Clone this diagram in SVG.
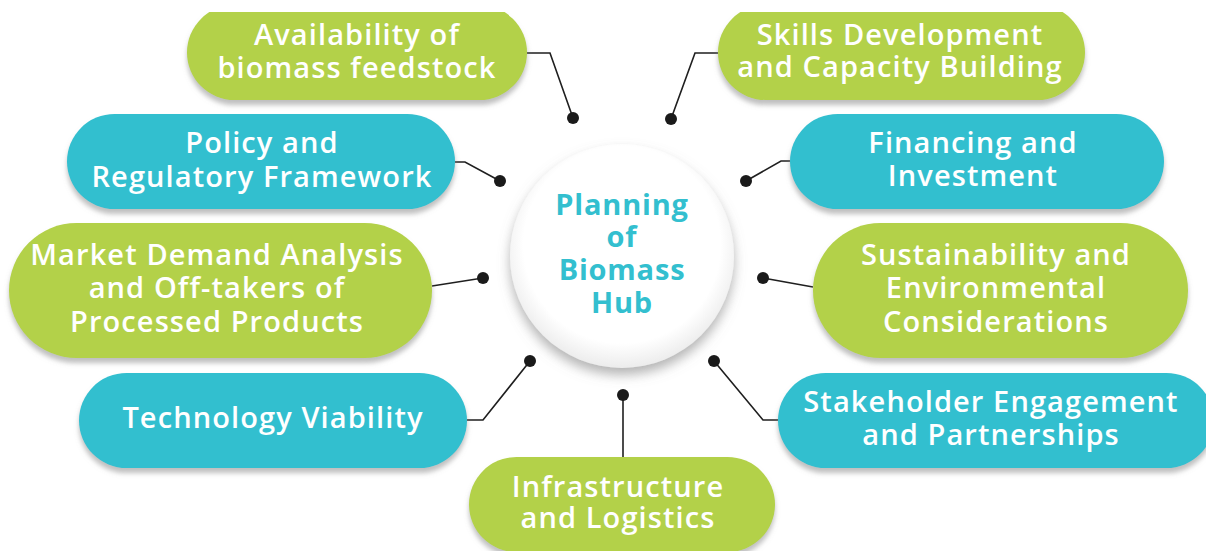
<svg xmlns="http://www.w3.org/2000/svg" width="1206" height="551" viewBox="0 0 1206 551">
  <defs>
    <filter id="sh" x="-10%" y="-20%" width="120%" height="150%">
      <feDropShadow dx="0" dy="5" stdDeviation="2.5" flood-color="#8a8a8a" flood-opacity="0.55"/>
    </filter>
    <filter id="csh" x="-20%" y="-20%" width="140%" height="150%">
      <feDropShadow dx="0" dy="7" stdDeviation="6" flood-color="#777" flood-opacity="0.55"/>
    </filter>
    <radialGradient id="cg" cx="50%" cy="45%" r="55%">
      <stop offset="0.8" stop-color="#ffffff"/>
      <stop offset="1" stop-color="#ececec"/>
    </radialGradient>
    <clipPath id="topclip"><rect x="0" y="12" width="1206" height="539"/></clipPath>
    <style>
      .g { fill: #B3D148; }
      .t { fill: #33BFCF; }
      .lbl { font-family: "Open Sans", "Liberation Sans", sans-serif; font-weight: 600; font-size: 29px; letter-spacing: 1.1px; fill: #ffffff; text-anchor: middle; }
      .hub { font-family: "Open Sans", "Liberation Sans", sans-serif; font-weight: 700; font-size: 29px; letter-spacing: 0.8px; fill: #33BFCF; text-anchor: middle; }
      .ln { fill: none; stroke: #1f1f1f; stroke-width: 1.6; }
      .dot { fill: #1a1a1a; }
    </style>
  </defs>
  <rect width="1206" height="551" fill="#ffffff"/>

  <g id="connectors">
    <polyline class="ln" points="527,53 550,53 573,118"/>
    <polyline class="ln" points="718,53 695,53 671,119"/>
    <polyline class="ln" points="455,162 465,162 500,181"/>
    <polyline class="ln" points="790,161 781,161 746,181"/>
    <polyline class="ln" points="432,286 483,278"/>
    <polyline class="ln" points="813,287 763,278"/>
    <polyline class="ln" points="467,420 483,420 530,361"/>
    <polyline class="ln" points="778,420 763,420 714,361"/>
    <polyline class="ln" points="623,395 623,457"/>
    <circle class="dot" cx="573" cy="118" r="6"/>
    <circle class="dot" cx="671" cy="119" r="6"/>
    <circle class="dot" cx="500" cy="181" r="6"/>
    <circle class="dot" cx="746" cy="181" r="6"/>
    <circle class="dot" cx="483" cy="278" r="6"/>
    <circle class="dot" cx="763" cy="278" r="6"/>
    <circle class="dot" cx="530" cy="361" r="6"/>
    <circle class="dot" cx="714" cy="361" r="6"/>
    <circle class="dot" cx="623" cy="395" r="6"/>
  </g>

  <g id="hub">
    <circle cx="622" cy="256" r="112" fill="url(#cg)" filter="url(#csh)"/>
    <text class="hub" x="622" y="215">Planning</text>
    <text class="hub" x="622" y="247">of</text>
    <text class="hub" x="622" y="280">Biomass</text>
    <text class="hub" x="622" y="313">Hub</text>
  </g>

  <g id="availability" clip-path="url(#topclip)">
    <rect class="g" x="187" y="5" width="340" height="95" rx="47.5" filter="url(#sh)"/>
    <text class="lbl" x="357" y="45">Availability of</text>
    <text class="lbl" x="357" y="78">biomass feedstock</text>
  </g>

  <g id="skills" clip-path="url(#topclip)">
    <rect class="g" x="718" y="5" width="367" height="95" rx="47.5" filter="url(#sh)"/>
    <text class="lbl" x="900" y="45">Skills Development</text>
    <text class="lbl" x="900" y="77">and Capacity Building</text>
  </g>

  <g id="policy">
    <rect class="t" x="67" y="114" width="388" height="95" rx="47.5" filter="url(#sh)"/>
    <text class="lbl" x="262" y="153">Policy and</text>
    <text class="lbl" x="262" y="187">Regulatory Framework</text>
  </g>

  <g id="financing">
    <rect class="t" x="790" y="114" width="374" height="95" rx="47.5" filter="url(#sh)"/>
    <text class="lbl" x="973" y="153">Financing and</text>
    <text class="lbl" x="973" y="186">Investment</text>
  </g>

  <g id="market">
    <rect class="g" x="9" y="223" width="423" height="135" rx="67.5" filter="url(#sh)"/>
    <text class="lbl" x="217" y="265">Market Demand Analysis</text>
    <text class="lbl" x="217" y="298">and Off-takers of</text>
    <text class="lbl" x="217" y="332">Processed Products</text>
  </g>

  <g id="sustainability">
    <rect class="g" x="813" y="223" width="375" height="135" rx="67.5" filter="url(#sh)"/>
    <text class="lbl" x="996" y="265">Sustainability and</text>
    <text class="lbl" x="996" y="298">Environmental</text>
    <text class="lbl" x="996" y="332">Considerations</text>
  </g>

  <g id="technology">
    <rect class="t" x="79" y="373" width="388" height="95" rx="47.5" filter="url(#sh)"/>
    <text class="lbl" x="273" y="428">Technology Viability</text>
  </g>

  <g id="stakeholder">
    <rect class="t" x="778" y="373" width="436" height="95" rx="47.5" filter="url(#sh)"/>
    <text class="lbl" x="991" y="412">Stakeholder Engagement</text>
    <text class="lbl" x="991" y="445">and Partnerships</text>
  </g>

  <g id="infrastructure">
    <rect class="g" x="469" y="457" width="306" height="95" rx="47.5" filter="url(#sh)"/>
    <text class="lbl" x="618" y="497">Infrastructure</text>
    <text class="lbl" x="618" y="528">and Logistics</text>
  </g>
</svg>
